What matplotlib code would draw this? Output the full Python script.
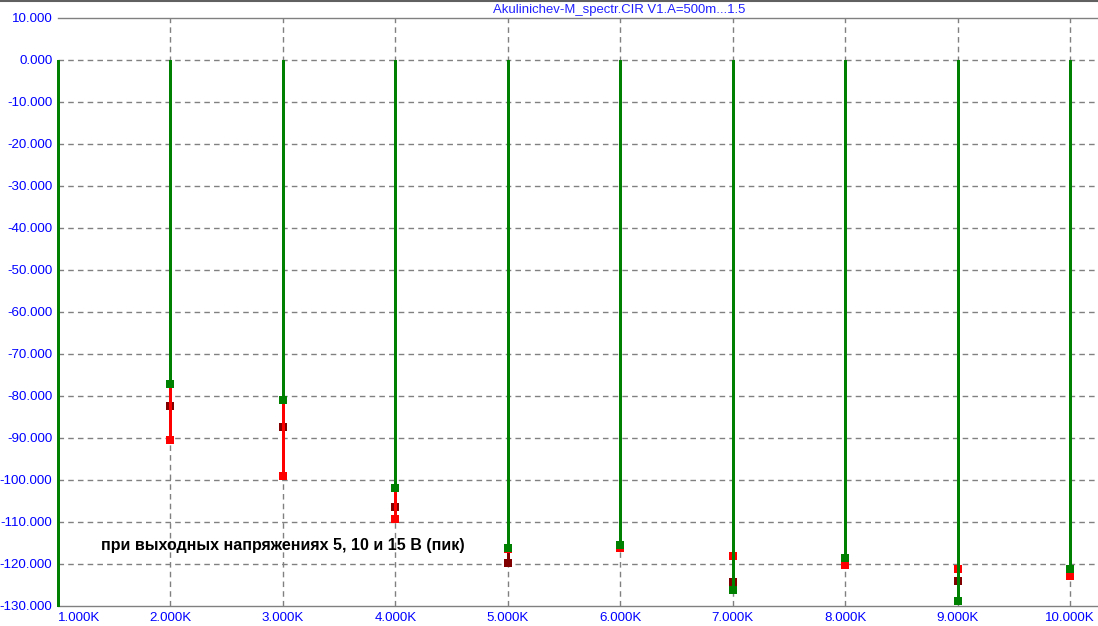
import matplotlib
matplotlib.use("Agg")
import matplotlib.pyplot as plt
from matplotlib.lines import Line2D
from matplotlib.ticker import FixedLocator, FuncFormatter

# ---- data (harmonic frequency in kHz, level in dB) ----
freqs_k = [2, 3, 4, 5, 6, 7, 8, 9, 10]
green_db = [-77.1, -81.0, -101.9, -116.2, -115.5, -126.1, -118.6, -128.7, -121.2]
maroon_db = [-82.4, -87.4, -106.4, -119.8, -115.6, -124.4, -119.0, -124.0, -121.5]
red_db = [-90.5, -99.0, -109.3, -116.4, -116.3, -118.0, -120.2, -121.1, -122.8]
fundamental_k = 1
fundamental_db = 0.0

x_ticks = [1, 2, 3, 4, 5, 6, 7, 8, 9, 10]
y_ticks = [10, 0, -10, -20, -30, -40, -50, -60, -70, -80, -90, -100, -110, -120, -130]

title_text = "Akulinichev-M_spectr.CIR V1.A=500m...1.5"
note_text = "при выходных напряжениях 5, 10 и 15 В (пик)"

W, H = 1098, 626
fig = plt.figure(figsize=(W / 100, H / 100), dpi=100)
plt.rcParams['font.family'] = ['Liberation Sans', 'DejaVu Sans']

ax = fig.add_axes([58 / W, (H - 606) / H, (W - 58) / W, (606 - 18) / H])
ax.set_xlim(1, 10 + (W - 1070.3) / 112.4)
ax.set_ylim(-130, 10)

grid_col = "#808080"
for xv in x_ticks[1:]:
    ax.axvline(xv, color=grid_col, lw=1, ls=(0, (4, 3)), zorder=1)
for yv in y_ticks[1:-1]:
    ax.axhline(yv, color=grid_col, lw=1, ls=(0, (4, 3)), zorder=1)

lw = 2.0
ms = 6.0
series = [(maroon_db, "#800000"), (red_db, "#ff0000"), (green_db, "#008000")]
z = 3
for vals, col in series:
    ax.vlines(freqs_k, vals, 0, colors=col, lw=lw, zorder=z, antialiased=False)
    ax.plot(freqs_k, vals, ls="none", marker="s", ms=ms, color=col,
            markeredgewidth=0, zorder=z + 1, antialiased=False)
    z += 2

# fundamental line
ax.vlines([fundamental_k], -130, fundamental_db, colors="#008000", lw=lw,
          zorder=z, clip_on=False, antialiased=False)

for s in ["right", "left"]:
    ax.spines[s].set_visible(False)
for s in ["top", "bottom"]:
    ax.spines[s].set_color(grid_col)
    ax.spines[s].set_linewidth(1)

ax.xaxis.set_major_locator(FixedLocator(x_ticks))
ax.yaxis.set_major_locator(FixedLocator(y_ticks))
ax.xaxis.set_major_formatter(FuncFormatter(lambda v, p: f"{v:.3f}K"))
ax.yaxis.set_major_formatter(FuncFormatter(lambda v, p: f"{v:.3f}"))
ax.tick_params(axis="both", length=0, labelsize=9.6, labelcolor="#0000ff")
ax.tick_params(axis="y", pad=4)
ax.tick_params(axis="x", pad=4)
xlabels = ax.get_xticklabels()
xlabels[0].set_horizontalalignment("left")

ax.text(1.383, -115.5, note_text, fontsize=11.5, fontweight="bold",
        color="black", ha="left", va="center", zorder=10)

fig.text(619 / W, 1 - 10 / H, title_text, fontsize=9.45, color="#2020ff",
         ha="center", va="center")
fig.add_artist(Line2D([0, 1], [1 - 0.5 / H, 1 - 0.5 / H], transform=fig.transFigure,
                      color="#606060", lw=1.5))

fig.savefig("out.png", dpi=100, facecolor="white")
